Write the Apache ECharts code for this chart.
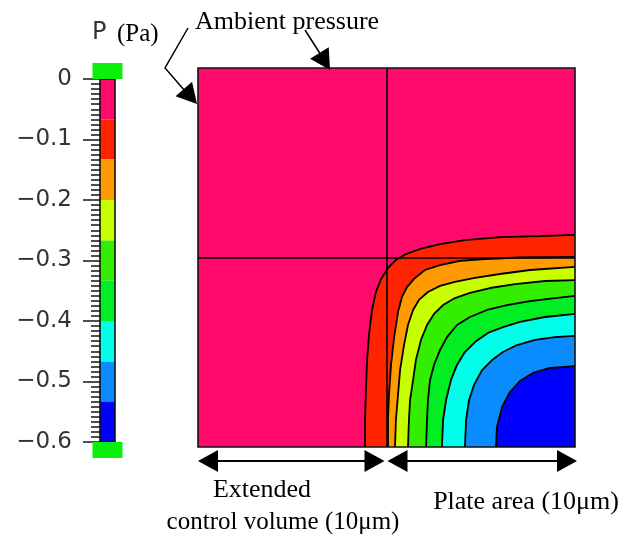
<!DOCTYPE html>
<html>
<head>
<meta charset="utf-8">
<script src="https://cdn.jsdelivr.net/npm/echarts@6/dist/echarts.min.js"></script>
<style>
  html, body { margin: 0; background: #fff; }
  #chart { width: 632px; height: 537px; }
</style>
</head>
<body>
<div id="chart"></div>
<script>
// pressure levels of the colour bar (Pa), top to bottom
const levels = [0, -0.067, -0.133, -0.2, -0.267, -0.333, -0.4, -0.467, -0.533, -0.6]
const bandColors = ['#FF0A6A', '#FF2400', '#FF9A00', '#C8FF00', '#33EE00', '#00EE22', '#00FFE8', '#0A8CFF', '#0000FF']

// domain (um): extended control volume 0-10, plate 10-20
const plateEdge = 10
const domainMax = 20

// contour lines: from the bottom edge round to the right edge (x, y in um)
const c1 = [[8.86, 0], [8.86, 1.42], [8.91, 3.01], [8.97, 4.59], [9.07, 5.91], [9.23, 7.23], [9.44, 8.18], [9.71, 8.87], [10.08, 9.45], [10.50, 9.87], [11.03, 10.18], [11.78, 10.45], [12.84, 10.71], [14.16, 10.92], [16.02, 11.08], [18.14, 11.13], [20, 11.19]]
const c2 = [[10.08, 0], [10.08, 1.42], [10.13, 2.74], [10.24, 4.33], [10.40, 5.75], [10.61, 7.12], [10.82, 7.92], [11.09, 8.44], [11.46, 8.87], [12.04, 9.34], [12.84, 9.60], [13.90, 9.82], [15.23, 9.92], [17.08, 10.00], [20, 10.03]]
const c3 = [[10.45, 0], [10.50, 1.42], [10.61, 2.74], [10.72, 4.06], [10.93, 5.38], [11.14, 6.44], [11.41, 7.23], [11.72, 7.76], [12.20, 8.18], [12.84, 8.50], [13.63, 8.71], [14.69, 8.92], [16.02, 9.13], [17.61, 9.34], [20, 9.50]]
const c4 = [[11.14, 0], [11.19, 1.42], [11.25, 2.48], [11.41, 3.54], [11.56, 4.59], [11.83, 5.65], [12.15, 6.44], [12.52, 7.02], [13.00, 7.49], [13.63, 7.86], [14.43, 8.13], [15.49, 8.39], [16.82, 8.60], [18.41, 8.76], [20, 8.81]]
const c5 = [[12.10, 0], [12.15, 1.42], [12.20, 2.48], [12.31, 3.54], [12.52, 4.33], [12.84, 5.12], [13.21, 5.80], [13.74, 6.44], [14.43, 6.86], [15.33, 7.23], [16.39, 7.49], [17.61, 7.70], [18.94, 7.86], [20, 7.97]]
const c6 = [[12.94, 0], [13.00, 1.42], [13.16, 2.48], [13.42, 3.54], [13.74, 4.33], [14.16, 5.01], [14.69, 5.54], [15.38, 6.02], [16.18, 6.33], [17.08, 6.60], [18.41, 6.86], [20, 7.02]]
const c7 = [[14.16, 0], [14.22, 1.42], [14.38, 2.48], [14.64, 3.27], [15.07, 4.06], [15.60, 4.59], [16.18, 5.01], [16.92, 5.38], [17.88, 5.65], [18.94, 5.80], [20, 5.86]]
const c8 = [[15.81, 0], [15.86, 1.06], [16.13, 2.11], [16.55, 2.90], [17.08, 3.48], [17.77, 3.91], [18.67, 4.17], [20, 4.27]]
const contours = [c1, c2, c3, c4, c5, c6, c7, c8]

const serif = '"Liberation Serif", "Times New Roman", serif'
const pixelSans = '"DejaVu Sans", sans-serif'

var chart = echarts.init(document.getElementById('chart'))

// filled region below/right of each contour line
function renderBand(params, api) {
  const i = api.value(2)
  const pts = contours[i].concat([[domainMax, 0]]).map(p => api.coord(p))
  return { type: 'polygon', shape: { points: pts }, style: { fill: bandColors[i + 1] } }
}

function renderBar(params, api) {
  const i = api.value(2)
  const a = api.coord([0, levels[i]])
  const b = api.coord([1, levels[i + 1]])
  return { type: 'rect', shape: { x: a[0], y: a[1], width: b[0] - a[0], height: b[1] - a[1] }, style: { fill: bandColors[i] } }
}

// green end caps of the colour bar
function renderCap(params, api) {
  const v = api.value(1)
  const p = api.coord([0.5, v])
  return {
    type: 'rect',
    shape: { x: p[0] - 15, y: v === 0 ? p[1] - 16 : p[1], width: 30, height: 16 },
    style: { fill: '#0BF00B' }
  }
}

function renderFrame(params, api) {
  const r = params.coordSys
  return { type: 'rect', shape: { x: r.x, y: r.y, width: r.width, height: r.height }, style: { fill: 'none', stroke: '#111', lineWidth: 1.6 } }
}

let option = {
  animation: false,
  grid: [
    { left: 100, top: 79, width: 15, height: 363 },
    { left: 198, top: 68, width: 377, height: 379, show: true, backgroundColor: bandColors[0], borderWidth: 0 }
  ],
  xAxis: [
    { gridIndex: 0, type: 'value', min: 0, max: 1, show: false },
    { gridIndex: 1, type: 'value', min: 0, max: domainMax, show: false }
  ],
  yAxis: [
    {
      gridIndex: 0, type: 'value', min: -0.6, max: 0, interval: 0.1,
      axisLine: { show: true, lineStyle: { color: '#222', width: 1 } },
      axisTick: { show: true, length: 17, lineStyle: { color: '#222', width: 1.6 } },
      minorTick: { show: true, splitNumber: 12, length: 9, lineStyle: { color: '#222', width: 1.6 } },
      splitLine: { show: false },
      minorSplitLine: { show: false },
      axisLabel: {
        margin: 28, fontFamily: pixelSans, fontSize: 23, color: '#333',
        formatter: v => v === 0 ? '0' : '\u2212' + Math.abs(v).toFixed(1)
      }
    },
    { gridIndex: 1, type: 'value', min: 0, max: domainMax, show: false }
  ],
  series: [
    {
      type: 'custom', xAxisIndex: 0, yAxisIndex: 0, renderItem: renderBar, z: 2,
      data: levels.slice(0, -1).map((v, i) => [0.5, v, i])
    },
    {
      type: 'custom', xAxisIndex: 0, yAxisIndex: 0, renderItem: renderFrame, z: 3,
      data: [[0.5, 0]]
    },
    {
      type: 'custom', xAxisIndex: 0, yAxisIndex: 0, renderItem: renderCap, z: 4,
      data: [[0.5, levels[0]], [0.5, levels[levels.length - 1]]]
    },
    {
      type: 'custom', xAxisIndex: 1, yAxisIndex: 1, renderItem: renderBand, z: 2,
      data: contours.map((c, i) => [plateEdge, plateEdge, i])
    }
  ].concat(contours.map((c, i) => ({
    type: 'line', xAxisIndex: 1, yAxisIndex: 1, data: c, showSymbol: false, z: 3,
    lineStyle: { color: '#000', width: 1.8 },
    markLine: i === 0 ? {
      silent: true, symbol: 'none', label: { show: false },
      lineStyle: { color: '#000', width: 1.6, type: 'solid' },
      data: [{ xAxis: plateEdge }, { yAxis: plateEdge }]
    } : undefined
  }))).concat([
    {
      type: 'custom', xAxisIndex: 1, yAxisIndex: 1, renderItem: renderFrame, z: 5,
      data: [[0, 0]]
    }
  ])
}
chart.setOption(option)

// annotations: dimension arrows under the plot, leaders to the ambient edges
function head(tip, dx, dy) {
  // filled triangle, pointing along (dx, dy)
  const len = 20, half = 11
  const bx = tip[0] - dx * len, by = tip[1] - dy * len
  return {
    type: 'polygon',
    shape: { points: [tip, [bx - dy * half, by + dx * half], [bx + dy * half, by - dx * half]] },
    style: { fill: '#000' }
  }
}

function dimArrow(x1, x2, y) {
  return [
    { type: 'line', shape: { x1: x1 + 15, y1: y, x2: x2 - 15, y2: y }, style: { stroke: '#000', lineWidth: 2 } },
    head([x1, y], -1, 0),
    head([x2, y], 1, 0)
  ]
}

const pLeft = chart.convertToPixel({ gridIndex: 1 }, [0, 0])
const pMid = chart.convertToPixel({ gridIndex: 1 }, [plateEdge, 0])
const pRight = chart.convertToPixel({ gridIndex: 1 }, [domainMax, 0])
const arrowY = pLeft[1] + 14

let graphics = [].concat(
  dimArrow(pLeft[0], pMid[0] - 2, arrowY),
  dimArrow(pMid[0] + 1, pRight[0] + 2, arrowY),
  [
    { type: 'polyline', shape: { points: [[305, 30], [321, 55]] }, style: { stroke: '#000', lineWidth: 1.5, fill: null } },
    head([330, 70], 0.53, 0.85),
    { type: 'polyline', shape: { points: [[188, 28], [165, 68], [185, 91]] }, style: { stroke: '#000', lineWidth: 1.5, fill: null } },
    head([197, 104], 0.66, 0.75),
    { type: 'text', x: 92, y: 33, style: { text: 'P', font: '24px ' + pixelSans, fill: '#333', textVerticalAlign: 'middle' } },
    { type: 'text', x: 117, y: 34, style: { text: '(Pa)', font: '25px ' + serif, fill: '#000', textVerticalAlign: 'middle' } },
    { type: 'text', x: 195, y: 22, style: { text: 'Ambient pressure', font: '26px ' + serif, fill: '#000', textVerticalAlign: 'middle' } },
    { type: 'text', x: 262, y: 490, style: { text: 'Extended', font: '26px ' + serif, fill: '#000', textAlign: 'center', textVerticalAlign: 'middle' } },
    { type: 'text', x: 283, y: 522, style: { text: 'control volume (10\u03bcm)', font: '25px ' + serif, fill: '#000', textAlign: 'center', textVerticalAlign: 'middle' } },
    { type: 'text', x: 526, y: 502, style: { text: 'Plate area (10\u03bcm)', font: '26px ' + serif, fill: '#000', textAlign: 'center', textVerticalAlign: 'middle' } }
  ]
)
chart.setOption({ graphic: graphics })
</script>
</body>
</html>
